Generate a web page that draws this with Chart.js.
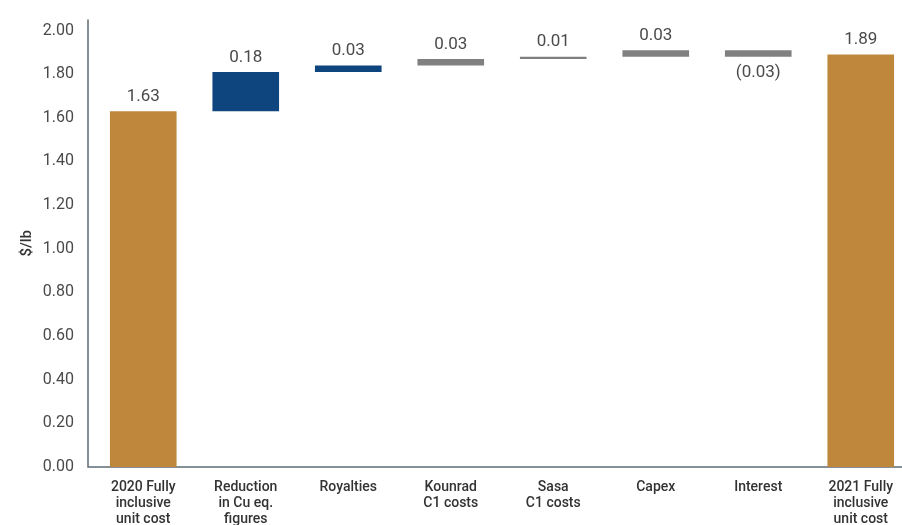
<!DOCTYPE html>
<html>
<head>
<meta charset="utf-8">
<script src="https://cdn.jsdelivr.net/npm/chart.js@4/dist/chart.umd.min.js"></script>
<style>
  html, body { margin: 0; padding: 0; background: #fff; overflow: hidden; }
  #wrap { width: 912px; height: 525px; }
</style>
</head>
<body>
<div id="wrap"><canvas id="costBridge" width="912" height="525"></canvas></div>
<script>
// unit cost bridge, $/lb
var categories = [
  ['2020 Fully', 'inclusive', 'unit cost'],
  ['Reduction', 'in Cu eq.', 'figures'],
  ['Royalties'],
  ['Kounrad', 'C1 costs'],
  ['Sasa', 'C1 costs'],
  ['Capex'],
  ['Interest'],
  ['2021 Fully', 'inclusive', 'unit cost']
];
var values = [1.63, 0.18, 0.03, 0.03, 0.01, 0.03, -0.03, 1.89];
var isTotal = [true, false, false, false, false, false, false, true];
var yTicks = [0, 0.2, 0.4, 0.6, 0.8, 1.0, 1.2, 1.4, 1.6, 1.8, 2.0];

var gold = '#BF873B';
var navy = '#0E457E';
var grey = '#808080';
var barColours = [gold, navy, navy, grey, grey, grey, grey, gold];
var axisColour = '#5d6b74';
var textColour = '#4a4a4a';
var axisGap = 4; // axis lines sit a little left of the first category

// floating bars: totals start at zero, steps start where the last one ended
var floating = [];
var running = 0;
for (var i = 0; i < values.length; i++) {
  if (isTotal[i]) {
    floating.push([0, values[i]]);
    running = values[i];
  } else {
    floating.push([running, running + values[i]]);
    running += values[i];
  }
}

function fmt(v) {
  var s = Math.abs(v).toFixed(2);
  return v < 0 ? '(' + s + ')' : s;
}

var axisLines = {
  id: 'axisLines',
  beforeDatasetsDraw: function(chart) {
    var a = chart.chartArea;
    var ctx = chart.ctx;
    var x0 = a.left - axisGap;
    ctx.save();
    ctx.strokeStyle = axisColour;
    ctx.lineWidth = 1.5;
    ctx.beginPath();
    ctx.moveTo(x0, a.top);
    ctx.lineTo(x0, a.bottom);
    ctx.lineTo(a.right, a.bottom);
    ctx.stroke();
    ctx.restore();
  }
};

var valueLabels = {
  id: 'valueLabels',
  afterDatasetsDraw: function(chart) {
    var ctx = chart.ctx;
    var meta = chart.getDatasetMeta(0);
    ctx.save();
    ctx.font = '17px Roboto';
    ctx.fillStyle = textColour;
    ctx.textAlign = 'center';
    meta.data.forEach(function(bar, idx) {
      var v = values[idx];
      var top = Math.min(bar.y, bar.base);
      var bottom = Math.max(bar.y, bar.base);
      if (v < 0) {
        ctx.textBaseline = 'top';
        ctx.fillText(fmt(v), bar.x, bottom + 8);
      } else {
        ctx.textBaseline = 'bottom';
        ctx.fillText(fmt(v), bar.x, top - 6);
      }
    });
    ctx.restore();
  }
};

new Chart(document.getElementById('costBridge').getContext('2d'), {
  type: 'bar',
  data: {
    labels: categories,
    datasets: [{
      data: floating,
      backgroundColor: barColours,
      borderWidth: 0,
      barPercentage: 0.65,
      categoryPercentage: 1.0
    }]
  },
  options: {
    responsive: false,
    animation: false,
    layout: { padding: { left: 18, top: 17, right: 0, bottom: 0 } },
    plugins: {
      legend: { display: false },
      tooltip: { enabled: false }
    },
    scales: {
      x: {
        grid: { display: false },
        border: { display: false },
        ticks: {
          color: '#333',
          font: { family: 'Roboto', size: 14, weight: '500', lineHeight: '16px' },
          padding: 4,
          maxRotation: 0,
          autoSkip: false
        },
        afterFit: function(scale) { scale.height = 58; }
      },
      y: {
        min: 0,
        max: 2.05,
        grid: { display: false },
        border: { display: false },
        afterBuildTicks: function(scale) {
          scale.ticks = yTicks.map(function(v) { return { value: v }; });
        },
        ticks: {
          color: textColour,
          font: { family: 'Roboto', size: 16 },
          padding: 10,
          callback: function(v) { return Number(v).toFixed(2); }
        },
        title: {
          display: true,
          text: '$/lb',
          color: '#333',
          font: { family: 'Roboto', size: 15, weight: '500' },
          padding: 0
        },
        afterFit: function(scale) { scale.width = 74; }
      }
    }
  },
  plugins: [axisLines, valueLabels]
});
</script>
</body>
</html>
